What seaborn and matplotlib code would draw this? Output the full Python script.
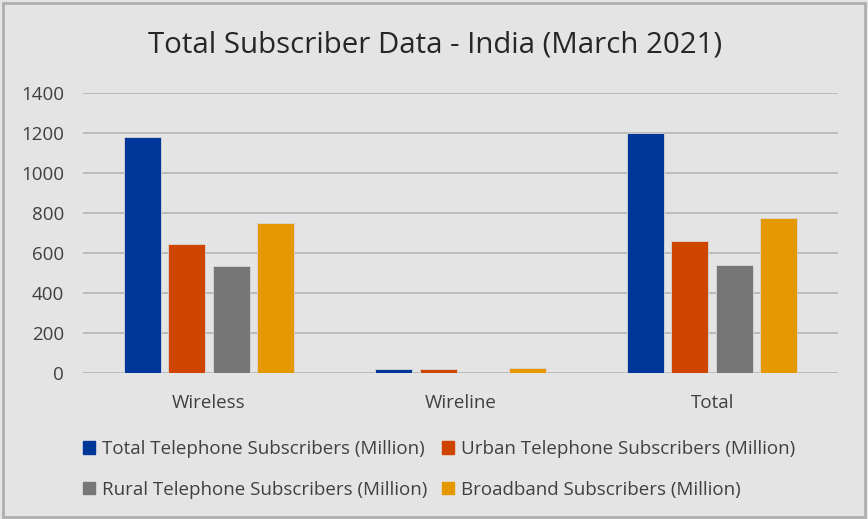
import matplotlib
matplotlib.use("Agg")
import matplotlib.pyplot as plt
import seaborn as sns
import pandas as pd
from matplotlib.patches import Patch

categories = ["Wireless", "Wireline", "Total"]
series_names = [
    "Total Telephone Subscribers (Million)",
    "Urban Telephone Subscribers (Million)",
    "Rural Telephone Subscribers (Million)",
    "Broadband Subscribers (Million)",
]
total_tel = [1180.0, 20.4, 1201.0]
urban_tel = [643.0, 17.9, 662.0]
rural_tel = [536.0, 2.5, 538.0]
broadband = [752.0, 23.0, 776.0]
y_ticks = [0, 200, 400, 600, 800, 1000, 1200, 1400]
title = "Total Subscriber Data - India (March 2021)"

colors = ["#00369A", "#CF4500", "#767676", "#E59800"]

rows = []
for name, vals in zip(series_names, [total_tel, urban_tel, rural_tel, broadband]):
    for c, v in zip(categories, vals):
        rows.append({"Category": c, "Series": name, "Value": v})
df = pd.DataFrame(rows)

sns.set_theme(style="white")
plt.rcParams["font.family"] = ["Open Sans", "DejaVu Sans"]
bg = "#E4E4E4"

fig = plt.figure(figsize=(8.68, 5.19), dpi=100, facecolor=bg)
ax = fig.add_axes([0.0956, 0.2813, 0.8698, 0.5395])
ax.set_facecolor(bg)

sns.barplot(data=df, x="Category", y="Value", hue="Series", hue_order=series_names,
            order=categories, palette=colors, saturation=1, width=0.706, gap=0.167, ax=ax,
            edgecolor="#D8D8D8", linewidth=0.6, legend=False, zorder=3)

ax.set_ylim(0, 1400)
ax.set_yticks(y_ticks)
ax.set_yticklabels([str(t) for t in y_ticks])
ax.set_xlim(-0.5, 2.5)
ax.yaxis.grid(True, color="#B5B5B5", linewidth=1.2, zorder=0)
ax.set_axisbelow(True)
for s in ax.spines.values():
    s.set_visible(False)
ax.set_xlabel("")
ax.set_ylabel("")
ax.tick_params(axis="both", length=0, labelsize=13.5, colors="#404040")
ax.tick_params(axis="y", pad=13.5)
ax.tick_params(axis="x", pad=15)

fig.text(0.5015, 0.913, title, ha="center", va="center", fontsize=21.2, color="#262626")

handles = [Patch(facecolor=c, edgecolor=c) for c in colors]
order = [0, 2, 1, 3]
leg = fig.legend([handles[i] for i in order], [series_names[i] for i in order],
                 ncol=2, loc="center", bbox_to_anchor=(0.506, 0.0954), frameon=False,
                 fontsize=13.5, handlelength=0.64, handleheight=0.64, handletextpad=0.35,
                 columnspacing=0.8, labelspacing=1.2)
for t in leg.get_texts():
    t.set_color("#404040")

# outer border
border = plt.Rectangle((0.004, 0.004), 0.992, 0.99, transform=fig.transFigure,
                       fill=False, edgecolor="#AFAFAF", linewidth=2)
fig.patches.append(border)

fig.savefig("out.png", dpi=100, facecolor=bg)
